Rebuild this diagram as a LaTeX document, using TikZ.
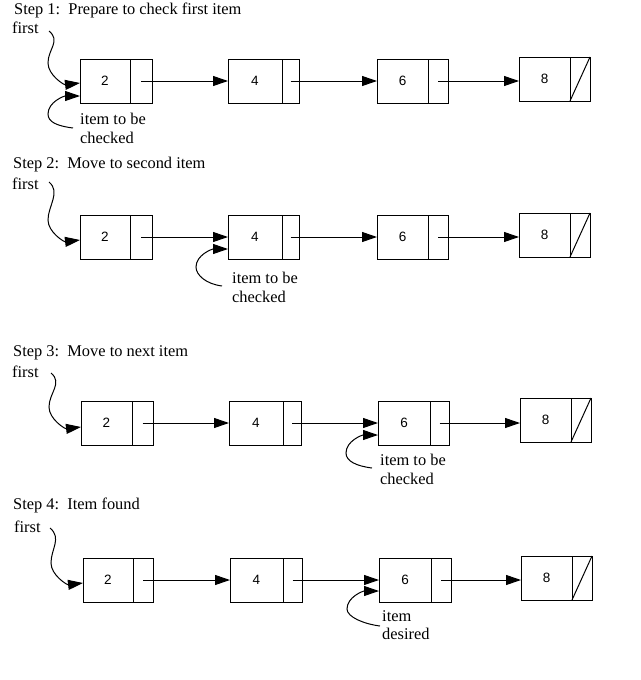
\documentclass[tikz,border=0pt]{standalone}
\usepackage{fontspec}
\setmainfont{Liberation Serif}
\newfontfamily\numfont{Liberation Sans}
\usetikzlibrary{arrows.meta,calc}

\tikzset{
  cellbase/.style={draw, line width=1pt, rectangle, inner sep=0pt, outer sep=0pt, minimum height=44pt},
  datacell/.style={cellbase, font=\numfont\fontsize{13.5}{15}\selectfont},
  ptrcell/.style={cellbase},
  arr/.style={line width=1pt, -{Triangle[length=15pt,width=10pt]}},
  lbl/.style={inner sep=0pt, font=\fontsize{16.4}{18.5}\selectfont, align=left},
  plain/.style={line width=1pt},
}

% name, left, divider, right, ycenter, value
\newcommand{\llbox}[6]{%
  \node[datacell, minimum width=#3-#2, anchor=west] (#1) at (#2,#5) {#6};
  \node[ptrcell, minimum width=#4-#3, anchor=west] (#1p) at (#1.east) {};
}
% prefix, target node, tip y offset, start dx, start dy
\newcommand{\firstcurve}[5]{%
  \coordinate (#1fe) at ($(#2.west)+(0,#3)$);
  \coordinate (#1fs) at ($(#1fe)+(#4,#5)$);
  \draw[arr] (#1fs) .. controls +(12,10) and +(0,-14) .. ($(#1fe)+(-32,-20)$)
             .. controls +(0,12) and +(-16,2) .. (#1fe);
}
% prefix, target node, tip y offset, start dx, start dy
\newcommand{\itemcurve}[5]{%
  \coordinate (#1ie) at ($(#2.west)+(0,#3)$);
  \coordinate (#1is) at ($(#1ie)+(#4,#5)$);
  \draw[arr] (#1is) .. controls +(-16,-2) and +(0,8) .. ($(#1ie)+(-32,18)$)
             .. controls +(0,-12) and +(-16,0) .. (#1ie);
}

\begin{document}
\begin{tikzpicture}[x=1pt,y=-1pt]
\useasboundingbox (0,0) rectangle (640,680);

% ---------- Step 1 ----------
\node[lbl, anchor=base west] (s1) at (14,14) {Step 1:\ \ Prepare to check first item};
\node[lbl, anchor=base west] (f1) at (12,34) {first};
\llbox{a2}{80}{130}{152}{81}{2}
\llbox{a4}{228}{282}{299}{81}{4}
\llbox{a6}{377}{428}{448}{81}{6}
\llbox{a8}{519}{570}{590}{79}{8}
\draw[plain] (a8p.south west) -- (a8p.north east);
\draw[arr] (a2p.center) -- (a4.west);
\draw[arr] (a4p.center) -- (a6.west);
\draw[arr] (a6p.center) -- (a6p.center -| a8.west);
\firstcurve{a}{a2}{2}{-31}{-52}
\itemcurve{a}{a2}{15}{-7}{32}
\node[lbl, anchor=north west] (ai) at (80,113) {item to be\\checked};

% ---------- Step 2 ----------
\node[lbl, anchor=base west] (s2) at (13,168) {Step 2:\ \ Move to second item};
\node[lbl, anchor=base west] (f2) at (12,189) {first};
\llbox{b2}{80}{130}{152}{237}{2}
\llbox{b4}{228}{282}{299}{237}{4}
\llbox{b6}{377}{428}{448}{237}{6}
\llbox{b8}{519}{570}{590}{235}{8}
\draw[plain] (b8p.south west) -- (b8p.north east);
\draw[arr] (b2p.center) -- (b4.west);
\draw[arr] (b4p.center) -- (b6.west);
\draw[arr] (b6p.center) -- (b6p.center -| b8.west);
\firstcurve{b}{b2}{3}{-31}{-58}
\itemcurve{b}{b4}{12}{-6}{37}
\node[lbl, anchor=north west] (bi) at (232,272) {item to be\\checked};

% ---------- Step 3 ----------
\node[lbl, anchor=base west] (s3) at (13,356) {Step 3:\ \ Move to next item};
\node[lbl, anchor=base west] (f3) at (12,377) {first};
\llbox{c2}{81}{132}{153}{423}{2}
\llbox{c4}{229}{283}{301}{423}{4}
\llbox{c6}{378}{430}{449}{423}{6}
\llbox{c8}{520}{571}{591}{420}{8}
\draw[plain] (c8p.south west) -- (c8p.north east);
\draw[arr] (c2p.center) -- (c4.west);
\draw[arr] (c4p.center) -- (c6.west);
\draw[arr] (c6p.center) -- (c6p.center -| c8.west);
\firstcurve{c}{c2}{4}{-30}{-54}
\itemcurve{c}{c6}{12}{-6}{33}
\node[lbl, anchor=north west] (ci) at (380,454) {item to be\\checked};

% ---------- Step 4 ----------
\node[lbl, anchor=base west] (s4) at (13,509) {Step 4:\ \ Item found};
\node[lbl, anchor=base west] (f4) at (14,532) {first};
\llbox{d2}{83}{133}{153}{580}{2}
\llbox{d4}{230}{283}{302}{580}{4}
\llbox{d6}{379}{431}{451}{580}{6}
\llbox{d8}{521}{572}{592}{578}{8}
\draw[plain] (d8p.south west) -- (d8p.north east);
\draw[arr] (d2p.center) -- (d4.west);
\draw[arr] (d4p.center) -- (d6.west);
\draw[arr] (d6p.center) -- (d6p.center -| d8.west);
\firstcurve{d}{d2}{3}{-33}{-55}
\itemcurve{d}{d6}{11}{1}{35}
\node[lbl, anchor=north west] (di) at (382,610) {item\\desired};
\end{tikzpicture}
\end{document}
